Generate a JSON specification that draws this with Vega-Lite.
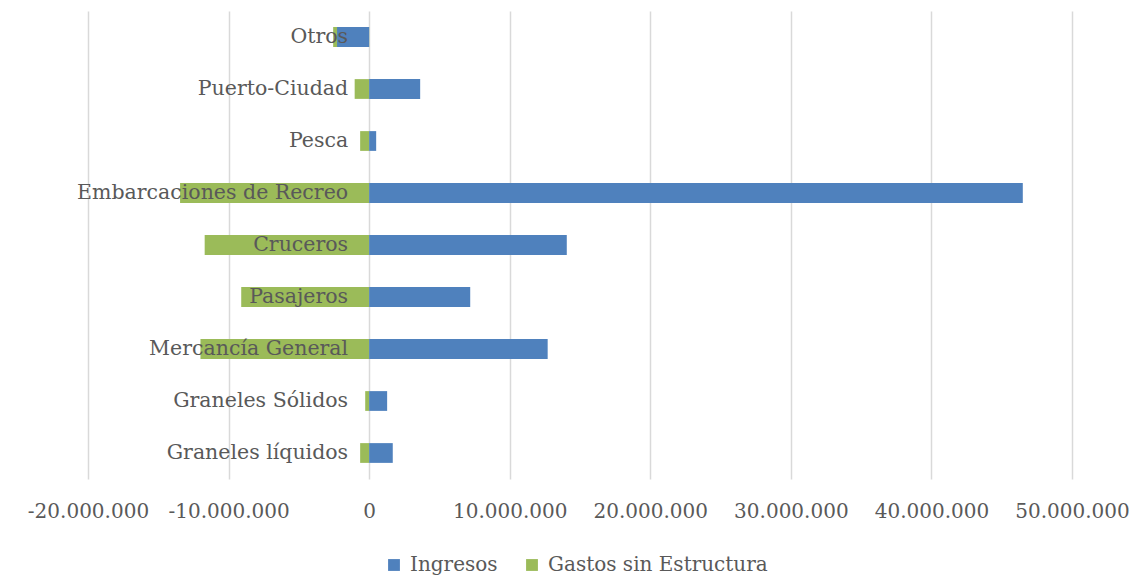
{
  "$schema": "https://vega.github.io/schema/vega-lite/v6.json",
  "width": 984,
  "height": 468,
  "autosize": {"type": "none"},
  "padding": {"left": 88, "top": 11, "right": 66, "bottom": 99},
  "background": "white",
  "config": {
    "locale": {"number": {"decimal": ",", "thousands": ".", "grouping": [3], "currency": ["", " €"], "minus": "-"}},
    "view": {"stroke": null},
    "font": "DejaVu Serif"
  },
  "data": {
    "values": [
      {"categoria": "Otros", "serie": "Gastos sin Estructura", "valor": -2560000},
      {"categoria": "Puerto-Ciudad", "serie": "Gastos sin Estructura", "valor": -1030000},
      {"categoria": "Pesca", "serie": "Gastos sin Estructura", "valor": -640000},
      {"categoria": "Embarcaciones de Recreo", "serie": "Gastos sin Estructura", "valor": -13450000},
      {"categoria": "Cruceros", "serie": "Gastos sin Estructura", "valor": -11700000},
      {"categoria": "Pasajeros", "serie": "Gastos sin Estructura", "valor": -9100000},
      {"categoria": "Mercancía General", "serie": "Gastos sin Estructura", "valor": -12000000},
      {"categoria": "Graneles Sólidos", "serie": "Gastos sin Estructura", "valor": -280000},
      {"categoria": "Graneles líquidos", "serie": "Gastos sin Estructura", "valor": -640000},
      {"categoria": "Otros", "serie": "Ingresos", "valor": -2280000},
      {"categoria": "Puerto-Ciudad", "serie": "Ingresos", "valor": 3630000},
      {"categoria": "Pesca", "serie": "Ingresos", "valor": 500000},
      {"categoria": "Embarcaciones de Recreo", "serie": "Ingresos", "valor": 46500000},
      {"categoria": "Cruceros", "serie": "Ingresos", "valor": 14060000},
      {"categoria": "Pasajeros", "serie": "Ingresos", "valor": 7190000},
      {"categoria": "Mercancía General", "serie": "Ingresos", "valor": 12700000},
      {"categoria": "Graneles Sólidos", "serie": "Ingresos", "valor": 1280000},
      {"categoria": "Graneles líquidos", "serie": "Ingresos", "valor": 1680000}
    ]
  },
  "encoding": {
    "y": {
      "field": "categoria",
      "type": "nominal",
      "sort": ["Otros", "Puerto-Ciudad", "Pesca", "Embarcaciones de Recreo", "Cruceros", "Pasajeros", "Mercancía General", "Graneles Sólidos", "Graneles líquidos"],
      "scale": {"paddingInner": 0.62, "paddingOuter": 0.31},
      "axis": null
    }
  },
  "layer": [
    {
      "mark": {"type": "bar"},
      "encoding": {
        "x": {
          "field": "valor",
          "type": "quantitative",
          "stack": null,
          "scale": {"domain": [-20000000, 50000000], "nice": false, "zero": false},
          "axis": {
            "title": null,
            "values": [-20000000, -10000000, 0, 10000000, 20000000, 30000000, 40000000, 50000000],
            "format": ",.0f",
            "domain": false,
            "ticks": false,
            "grid": true,
            "gridColor": "#d9d9d9",
            "gridWidth": 1.5,
            "labelOverlap": false,
            "labelFlush": false,
            "labelFont": "DejaVu Serif",
            "labelFontSize": 20,
            "labelColor": "#595959",
            "labelPadding": 22
          }
        },
        "color": {
          "field": "serie",
          "type": "nominal",
          "scale": {"domain": ["Ingresos", "Gastos sin Estructura"], "range": ["#4f81bd", "#9bbb59"]},
          "legend": {
            "title": null,
            "orient": "none",
            "direction": "horizontal",
            "legendX": 296,
            "legendY": 544,
            "symbolType": "square",
            "symbolSize": 140,
            "symbolStrokeWidth": 0,
            "labelFont": "DejaVu Serif",
            "labelFontSize": 20,
            "labelColor": "#595959",
            "labelLimit": 0,
            "columnPadding": 24,
            "labelOffset": 6
          }
        }
      }
    },
    {
      "transform": [{"filter": "datum.serie === 'Ingresos'"}],
      "mark": {"type": "text", "align": "right", "baseline": "middle", "dx": -21, "font": "DejaVu Serif", "fontSize": 20.5, "color": "#595959"},
      "encoding": {
        "x": {"datum": 0},
        "text": {"field": "categoria"}
      }
    }
  ]
}
